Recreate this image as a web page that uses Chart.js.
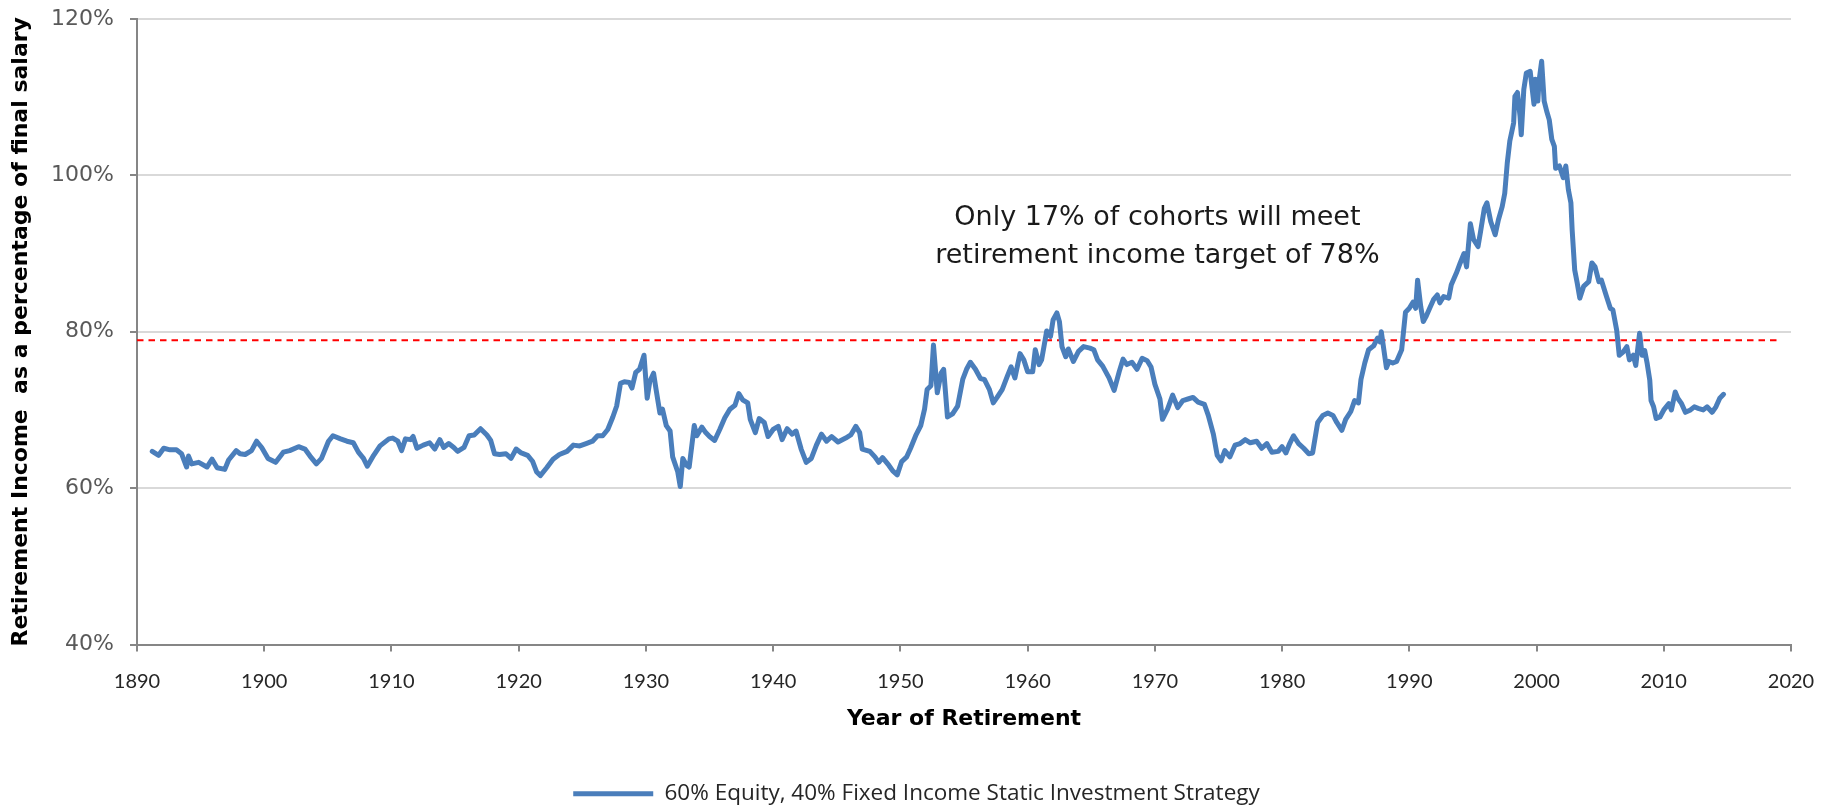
<!DOCTYPE html>
<html>
<head>
<meta charset="utf-8">
<title>Retirement income by year of retirement</title>
<script src="https://cdn.jsdelivr.net/npm/chart.js@4.4.1/dist/chart.umd.min.js"></script>
<style>
  html, body { margin: 0; padding: 0; background: #fff; }
  #wrap { width: 1833px; height: 806px; }
</style>
</head>
<body>
<div id="wrap"><canvas id="chart" width="1833" height="806"></canvas></div>
<script>
// ---------------------------------------------------------------
// data
// ---------------------------------------------------------------
const retireYear = [
  1891.2, 1891.7, 1892.1, 1892.6, 1893.1, 1893.5, 1893.9, 1894.05, 1894.3, 1894.85,
  1895.5, 1895.9, 1896.3, 1896.9, 1897.2, 1897.8, 1898.1, 1898.5, 1899.0, 1899.4,
  1899.8, 1900.3, 1900.9, 1901.5, 1902.0, 1902.7, 1903.2, 1903.6, 1904.1, 1904.5,
  1905.05, 1905.4, 1906.0, 1906.5, 1907.0, 1907.4, 1907.8, 1908.1, 1908.6, 1909.1,
  1909.8, 1910.1, 1910.5, 1910.8, 1911.1, 1911.5, 1911.7, 1912.0, 1912.5, 1913.0,
  1913.4, 1913.8, 1914.1, 1914.5, 1914.9, 1915.2, 1915.7, 1916.1, 1916.5, 1917.0,
  1917.5, 1917.8, 1918.1, 1918.5, 1919.0, 1919.4, 1919.8, 1920.2, 1920.7, 1921.1,
  1921.4, 1921.7, 1922.2, 1922.7, 1923.2, 1923.8, 1924.3, 1924.8, 1925.3, 1925.8,
  1926.2, 1926.6, 1927.0, 1927.4, 1927.7, 1928.0, 1928.3, 1928.7, 1928.9, 1929.2,
  1929.5, 1929.85, 1930.1, 1930.3, 1930.6, 1930.8, 1931.1, 1931.3, 1931.6, 1931.9,
  1932.1, 1932.5, 1932.7, 1932.9, 1933.2, 1933.4, 1933.8, 1934.0, 1934.4, 1934.7,
  1935.0, 1935.4, 1935.8, 1936.2, 1936.6, 1937.0, 1937.3, 1937.6, 1938.0, 1938.2,
  1938.6, 1938.9, 1939.3, 1939.6, 1940.0, 1940.4, 1940.7, 1941.1, 1941.5, 1941.8,
  1942.2, 1942.6, 1943.0, 1943.4, 1943.8, 1944.2, 1944.6, 1945.1, 1945.7, 1946.1,
  1946.5, 1946.8, 1947.0, 1947.6, 1948.0, 1948.3, 1948.6, 1949.1, 1949.4, 1949.75,
  1950.1, 1950.5, 1950.8, 1951.2, 1951.6, 1951.9, 1952.1, 1952.4, 1952.6, 1952.9,
  1953.2, 1953.4, 1953.7, 1954.1, 1954.5, 1954.9, 1955.2, 1955.5, 1955.9, 1956.3,
  1956.6, 1957.0, 1957.3, 1957.6, 1958.0, 1958.4, 1958.7, 1959.0, 1959.4, 1959.7,
  1960.0, 1960.4, 1960.6, 1960.9, 1961.1, 1961.5, 1961.8, 1962.0, 1962.3, 1962.5,
  1962.7, 1963.0, 1963.2, 1963.6, 1964.0, 1964.4, 1964.9, 1965.2, 1965.5, 1965.9,
  1966.4, 1966.8, 1967.2, 1967.5, 1967.8, 1968.2, 1968.6, 1969.0, 1969.4, 1969.7,
  1970.0, 1970.4, 1970.6, 1971.0, 1971.4, 1971.8, 1972.2, 1972.6, 1973.0, 1973.4,
  1973.9, 1974.2, 1974.6, 1974.9, 1975.2, 1975.5, 1975.9, 1976.3, 1976.7, 1977.1,
  1977.5, 1978.0, 1978.4, 1978.8, 1979.2, 1979.7, 1980.0, 1980.3, 1980.6, 1980.9,
  1981.3, 1981.7, 1982.1, 1982.4, 1982.8, 1983.2, 1983.6, 1984.0, 1984.3, 1984.7,
  1985.0, 1985.4, 1985.7, 1986.0, 1986.2, 1986.5, 1986.8, 1987.2, 1987.5, 1987.7,
  1987.8, 1988.0, 1988.2, 1988.4, 1988.7, 1989.0, 1989.4, 1989.7, 1990.0, 1990.3,
  1990.5, 1990.65, 1990.9, 1991.1, 1991.3, 1991.6, 1991.9, 1992.2, 1992.4, 1992.7,
  1993.1, 1993.3, 1993.7, 1994.0, 1994.3, 1994.5, 1994.8, 1995.05, 1995.4, 1995.6,
  1995.9, 1996.1, 1996.4, 1996.75, 1997.0, 1997.3, 1997.5, 1997.7, 1997.9, 1998.2,
  1998.3, 1998.5, 1998.7, 1998.8, 1999.0, 1999.2, 1999.5, 1999.8, 1999.9, 2000.1,
  2000.2, 2000.4, 2000.6, 2000.8, 2001.0, 2001.2, 2001.4, 2001.5, 2001.8, 2002.1,
  2002.3, 2002.5, 2002.7, 2002.8, 2003.0, 2003.2, 2003.4, 2003.7, 2004.1, 2004.35,
  2004.6, 2004.9, 2005.1, 2005.5, 2005.8, 2006.0, 2006.3, 2006.5, 2006.8, 2007.1,
  2007.3, 2007.6, 2007.8, 2008.1, 2008.3, 2008.5, 2008.7, 2008.9, 2009.0, 2009.2,
  2009.4, 2009.7, 2010.0, 2010.4, 2010.6, 2010.9, 2011.1, 2011.4, 2011.7, 2012.1,
  2012.4, 2012.7, 2013.1, 2013.4, 2013.8, 2014.1, 2014.4, 2014.7
];

// retirement income, % of final salary
const incomePct = [
  64.7, 64.2, 65.1, 64.9, 64.9, 64.4, 62.7, 64.1, 63.1, 63.3,
  62.7, 63.7, 62.6, 62.4, 63.6, 64.8, 64.4, 64.3, 64.8, 66.0,
  65.2, 63.8, 63.3, 64.6, 64.8, 65.3, 65.0, 64.1, 63.1, 63.8,
  66.0, 66.7, 66.3, 66.0, 65.8, 64.6, 63.8, 62.8, 64.2, 65.4,
  66.3, 66.4, 66.0, 64.8, 66.3, 66.2, 66.6, 65.1, 65.5, 65.8,
  65.0, 66.2, 65.2, 65.7, 65.2, 64.7, 65.2, 66.7, 66.8, 67.6,
  66.8, 66.1, 64.4, 64.3, 64.4, 63.8, 65.0, 64.5, 64.2, 63.4,
  62.1, 61.6, 62.6, 63.7, 64.3, 64.7, 65.5, 65.4, 65.7, 66.0,
  66.7, 66.7, 67.5, 69.1, 70.5, 73.4, 73.6, 73.5, 72.8, 74.8,
  75.2, 77.0, 71.5, 73.6, 74.7, 72.6, 69.6, 70.1, 68.0, 67.3,
  64.0, 62.1, 60.2, 63.8, 62.9, 62.7, 68.0, 66.7, 67.8, 67.1,
  66.6, 66.1, 67.5, 69.0, 70.1, 70.6, 72.1, 71.3, 70.9, 68.8,
  67.1, 68.9, 68.4, 66.6, 67.5, 67.9, 66.2, 67.6, 66.9, 67.3,
  65.0, 63.3, 63.8, 65.5, 66.9, 66.0, 66.6, 65.9, 66.4, 66.8,
  67.9, 67.1, 65.0, 64.7, 64.0, 63.3, 63.9, 62.9, 62.2, 61.7,
  63.4, 64.0, 65.1, 66.7, 68.0, 70.1, 72.6, 73.1, 78.3, 72.2,
  74.7, 75.2, 69.1, 69.5, 70.5, 73.9, 75.2, 76.1, 75.2, 74.0,
  73.9, 72.6, 70.9, 71.6, 72.6, 74.3, 75.5, 74.1, 77.2, 76.4,
  74.9, 74.9, 77.7, 75.8, 76.4, 80.1, 79.4, 81.5, 82.4, 81.3,
  78.1, 76.8, 77.8, 76.2, 77.5, 78.1, 77.9, 77.7, 76.4, 75.6,
  74.1, 72.5, 74.9, 76.5, 75.8, 76.1, 75.2, 76.6, 76.3, 75.5,
  73.3, 71.4, 68.8, 70.1, 71.9, 70.3, 71.2, 71.4, 71.6, 71.0,
  70.7, 69.3, 66.9, 64.2, 63.5, 64.8, 64.0, 65.5, 65.7, 66.2,
  65.8, 66.0, 65.1, 65.7, 64.6, 64.7, 65.3, 64.5, 65.7, 66.7,
  65.7, 65.1, 64.4, 64.5, 68.4, 69.3, 69.6, 69.3, 68.4, 67.4,
  68.8, 69.8, 71.2, 70.9, 73.9, 76.0, 77.7, 78.2, 79.2, 78.7,
  80.0, 77.7, 75.4, 76.2, 76.0, 76.2, 77.7, 82.5, 83.0, 83.8,
  83.0, 86.6, 83.2, 81.3, 81.9, 83.0, 84.1, 84.7, 83.7, 84.5,
  84.3, 86.0, 87.5, 88.8, 90.0, 88.3, 93.8, 91.8, 90.9, 92.8,
  95.8, 96.5, 94.1, 92.4, 94.3, 96.0, 97.7, 101.6, 104.4, 106.7,
  110.1, 110.6, 107.6, 105.2, 111.0, 113.1, 113.3, 109.1, 112.3, 109.5,
  112.1, 114.6, 109.5, 108.2, 107.1, 104.6, 103.7, 100.9, 101.2, 99.7,
  101.2, 98.2, 96.5, 93.0, 87.9, 86.2, 84.3, 85.8, 86.4, 88.8,
  88.3, 86.4, 86.6, 84.5, 83.0, 82.8, 80.2, 77.0, 77.4, 78.1,
  76.4, 77.0, 75.7, 79.8, 77.0, 77.6, 75.9, 73.8, 71.2, 70.4,
  68.9, 69.1, 70.0, 70.8, 70.0, 72.3, 71.5, 70.8, 69.7, 70.0,
  70.4, 70.2, 70.0, 70.4, 69.7, 70.4, 71.5, 72.0
];

// red dashed target line
const targetYears = [1890, 2019];
const targetPct = [78.9, 78.9];

const xTickYears = [1890, 1900, 1910, 1920, 1930, 1940, 1950, 1960, 1970, 1980, 1990, 2000, 2010, 2020];
const yTickPct = [40, 60, 80, 100, 120];

const seriesName = "60% Equity, 40% Fixed Income Static Investment Strategy";
const noteLines = ["Only 17% of cohorts will meet", "retirement income target of 78%"];

// ---------------------------------------------------------------
// text note in the plot
// ---------------------------------------------------------------
const notePlugin = {
  id: "note",
  afterDatasetsDraw(chart) {
    const { ctx, scales } = chart;
    const cx = scales.x.getPixelForValue(1970.2);
    ctx.save();
    ctx.font = '27px "DejaVu Sans", sans-serif';
    ctx.fillStyle = "#1a1a1a";
    ctx.textAlign = "center";
    ctx.textBaseline = "middle";
    noteLines.forEach((t, i) => {
      ctx.fillText(t, cx, scales.y.getPixelForValue(94.6 - i * 4.85));
    });
    ctx.restore();
  },
};

// ---------------------------------------------------------------
// chart
// ---------------------------------------------------------------
const gothic = '"DejaVu Sans", sans-serif';
const calibri = 'Lato, "Open Sans", sans-serif';

new Chart(document.getElementById("chart"), {
  type: "line",
  data: {
    datasets: [
      {
        label: seriesName,
        data: retireYear.map((yr, i) => ({ x: yr, y: incomePct[i] })),
        borderColor: "#4A7EBB",
        backgroundColor: "#4A7EBB",
        borderWidth: 5,
        pointRadius: 0,
        tension: 0,
        borderJoinStyle: "round",
        borderCapStyle: "round",
      },
      {
        label: "target",
        data: targetYears.map((yr, i) => ({ x: yr, y: targetPct[i] })),
        borderColor: "#FF0000",
        borderWidth: 2,
        borderDash: [6.5, 5],
        pointRadius: 0,
      },
    ],
  },
  options: {
    responsive: false,
    animation: false,
    events: [],
    layout: { padding: { top: 19, right: 0, bottom: -9, left: 0 } },
    plugins: {
      tooltip: { enabled: false },
      legend: {
        position: "bottom",
        labels: {
          filter: (item) => item.datasetIndex === 0,
          usePointStyle: true,
          pointStyle: "line",
          pointStyleWidth: 80,
          padding: 10,
          color: "#262626",
          font: { family: '"Open Sans", Lato, sans-serif', size: 22.5 },
        },
      },
    },
    scales: {
      x: {
        type: "linear",
        min: 1890,
        max: 2020,
        afterBuildTicks: (axis) => {
          axis.ticks = xTickYears.map((v) => ({ value: v }));
        },
        afterFit: (axis) => {
          axis.height = 128;
        },
        ticks: {
          autoSkip: false,
          maxRotation: 0,
          padding: 18,
          color: "#262626",
          font: { family: calibri, size: 20 },
          callback: (v) => String(v),
        },
        grid: {
          drawOnChartArea: false,
          tickLength: 7,
          tickColor: "#868686",
          lineWidth: 2,
        },
        border: { color: "#868686", width: 2 },
        title: {
          display: true,
          text: "Year of Retirement",
          color: "#000",
          font: { family: gothic, size: 22, weight: "bold" },
          padding: { top: 0, bottom: 40 },
        },
      },
      y: {
        min: 40,
        max: 120,
        afterBuildTicks: (axis) => {
          axis.ticks = yTickPct.map((v) => ({ value: v }));
        },
        afterFit: (axis) => {
          axis.width = 137;
          axis.paddingTop = 0;
          axis.paddingBottom = 0;
        },
        ticks: {
          padding: 16,
          color: "#595959",
          font: { family: gothic, size: 22 },
          callback: (v) => v + "%",
        },
        grid: {
          color: "#D9D9D9",
          lineWidth: 2,
          tickLength: 7,
          tickColor: "#868686",
        },
        border: { color: "#868686", width: 2 },
        title: {
          display: true,
          text: "Retirement Income  as a percentage of final salary",
          color: "#000",
          font: { family: gothic, size: 22, weight: "bold" },
          padding: { top: 8, bottom: 0 },
        },
      },
      // empty right-hand strip so the legend stays centred on the page
      yRight: {
        position: "right",
        grid: { display: false },
        border: { display: false },
        ticks: { display: false },
        afterFit: (axis) => {
          axis.width = 42;
          axis.paddingTop = 0;
          axis.paddingBottom = 0;
        },
      },
    },
  },
  plugins: [notePlugin],
});
</script>
</body>
</html>
